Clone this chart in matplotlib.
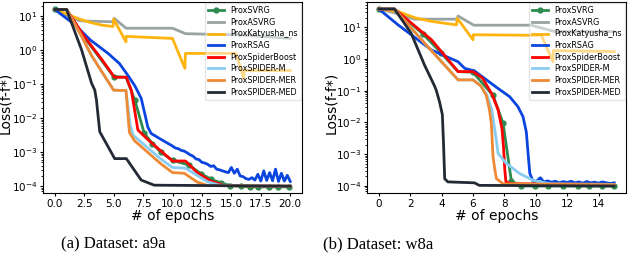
import numpy as np
import matplotlib
matplotlib.use("Agg")
import matplotlib.pyplot as plt

# ---- data (values are log10 of loss) ----
labels = ["ProxSVRG", "ProxASVRG", "ProxKatyusha_ns", "ProxRSAG",
          "ProxSpiderBoost", "ProxSPIDER-M", "ProxSPIDER-MER", "ProxSPIDER-MED"]
colors = ["#2e8b4f", "#98a4a4", "#ffb30f", "#0b45e0",
          "#ff0000", "#88ccf1", "#ee8a35", "#232a36"]

# dataset a9a
a9a_svrg_x = [0, 1.0, 2.5, 5.0, 6.05, 6.8, 7.6, 8.3, 9.0, 10.0, 11.4, 12.4, 13.3, 14.1, 14.9, 15.8, 16.6, 17.3, 18.2, 19.0, 19.9]
a9a_svrg_y = [1.19, 1.19, 0.38, -0.78, -0.8, -1.47, -2.45, -2.75, -3.0, -3.24, -3.38, -3.63, -3.8, -3.9, -3.98, -4.0, -4.02, -4.02, -4.02, -4.02, -4.02]
a9a_svrg_marks = [0, 2, 3, 5, 6, 7, 8, 9, 10, 11, 12, 13, 14, 15, 16, 17, 18, 19, 20]

a9a_asvrg_x = [0, 1.0, 2.0, 2.5, 5.0, 5.05, 6.05, 10.0, 11.1, 16.0, 20.0]
a9a_asvrg_y = [1.19, 1.02, 0.87, 0.85, 0.83, 0.93, 0.64, 0.64, 0.48, 0.44, 0.34]

a9a_katy_x = [0, 1.0, 2.0, 3.0, 4.0, 4.95, 5.0, 6.05, 6.06, 10.0, 11.05, 11.1, 15.4, 16.05, 16.1, 20.0]
a9a_katy_y = [1.19, 1.06, 0.92, 0.81, 0.73, 0.69, 0.91, 0.24, 0.4, 0.34, -0.54, -0.1, -0.1, -0.83, -0.6, -0.6]

a9a_rsag_x = [0, 1.72, 3.0, 4.53, 5.5, 6.2, 6.8, 7.34, 7.7, 7.9, 8.18, 9.0, 10.0,
              10.25, 10.5, 10.75, 11.0, 11.25, 11.5, 11.75, 12.0, 12.25, 12.5, 12.75, 13.0,
              13.25, 13.5, 13.75, 14.0, 14.25, 14.5, 14.75, 15.0, 15.25, 15.5, 15.75, 16.0,
              16.25, 16.5, 16.75, 17.0, 17.25, 17.5, 17.75, 18.0, 18.25, 18.5, 18.75, 19.0,
              19.25, 19.5, 19.75, 20.0]
a9a_rsag_y = [1.19, 0.74, 0.3, -0.1, -0.4, -0.74, -1.05, -1.42, -1.95, -2.26, -2.45, -2.62, -2.82,
              -2.88, -2.9, -2.95, -2.97, -3.02, -3.08, -3.12, -3.2, -3.22, -3.3, -3.32, -3.36,
              -3.42, -3.4, -3.5, -3.52, -3.55, -3.58, -3.6, -3.45, -3.62, -3.5, -3.7, -3.72,
              -3.78, -3.8, -3.75, -3.82, -3.65, -3.85, -3.55, -3.83, -3.6, -3.84, -3.5, -3.86,
              -3.62, -3.85, -3.68, -3.86]

a9a_boost_x = [0, 1.0, 2.5, 4.0, 5.07, 6.08, 6.5, 7.06, 8.0, 10.0, 11.1, 12.1, 13.25, 14.4, 20.0]
a9a_boost_y = [1.19, 1.19, 0.4, -0.28, -0.8, -0.8, -1.18, -2.35, -2.66, -3.26, -3.26, -3.6, -3.85, -3.98, -4.0]

a9a_m_x = [0, 1.0, 2.3, 3.1, 4.0, 5.0, 6.05, 6.4, 6.65, 9.0, 10.0, 11.1, 12.97, 14.0, 20.0]
a9a_m_y = [1.19, 1.19, 0.39, -0.15, -0.64, -1.18, -1.19, -2.2, -2.5, -3.2, -3.45, -3.47, -3.87, -3.97, -4.0]

a9a_mer_x = [0, 1.0, 2.3, 3.1, 4.0, 5.0, 6.05, 6.34, 6.76, 9.0, 10.0, 11.0, 12.1, 13.0, 20.0]
a9a_mer_y = [1.19, 1.19, 0.39, -0.15, -0.64, -1.18, -1.19, -2.42, -2.66, -3.34, -3.6, -3.62, -3.88, -3.98, -4.0]

a9a_med_x = [0, 1.0, 2.28, 3.12, 3.4, 3.54, 3.82, 5.09, 6.08, 7.34, 8.44, 20.0]
a9a_med_y = [1.19, 1.19, 0.0, -0.97, -1.18, -1.47, -2.4, -3.19, -3.19, -3.82, -3.97, -4.0]

# dataset w8a
w8a_svrg_x = [0, 1.0, 2.82, 3.95, 5.05, 6.0, 7.28, 7.92, 8.45, 9.09, 9.94, 10.8, 11.74, 12.7, 13.4, 14.2, 15.0]
w8a_svrg_y = [1.57, 1.57, 0.78, 0.2, -0.4, -0.42, -1.15, -2.03, -3.85, -4.0, -4.0, -4.0, -4.0, -4.0, -4.0, -4.0, -4.0]
w8a_svrg_marks = [0, 2, 3, 5, 6, 7, 8, 9, 10, 11, 12, 13, 14, 15, 16]

w8a_asvrg_x = [0, 1.0, 2.27, 5.0, 5.05, 6.05, 9.7, 11.2, 15.0]
w8a_asvrg_y = [1.57, 1.45, 1.25, 1.25, 1.35, 1.06, 1.06, 0.86, 0.86]

w8a_katy_x = [0, 1.23, 2.27, 3.36, 4.95, 5.0, 6.0, 6.02, 10.36, 11.1, 11.12, 15.0]
w8a_katy_y = [1.57, 1.49, 1.3, 1.18, 1.07, 1.28, 0.6, 0.76, 0.74, -0.09, 0.26, 0.23]

w8a_rsag_x = [0, 1.23, 3.36, 5.05, 5.48, 6.1, 7.16, 7.6, 8.34, 8.86, 9.19, 9.4, 9.5, 9.62, 9.83,
              10.0, 10.3, 10.5, 10.75, 11.0, 11.25, 11.5, 11.75, 12.0, 12.25, 12.5, 12.75, 13.0,
              13.25, 13.5, 13.75, 14.0, 14.25, 14.5, 14.75, 15.0]
w8a_rsag_y = [1.57, 1.07, 0.28, -0.09, -0.3, -0.38, -0.77, -0.93, -1.19, -1.5, -1.82, -2.3, -2.9, -3.6, -3.85,
              -3.86, -3.74, -3.87, -3.84, -3.88, -3.85, -3.9, -3.86, -3.89, -3.85, -3.9, -3.87, -3.91,
              -3.86, -3.9, -3.88, -3.91, -3.87, -3.9, -3.92, -3.9]

w8a_boost_x = [0, 1.0, 3.36, 5.05, 6.0, 6.6, 7.2, 7.6, 7.85, 7.95, 8.03, 8.1, 8.5, 15.0]
w8a_boost_y = [1.57, 1.57, 0.6, -0.4, -0.4, -0.6, -1.1, -1.6, -2.2, -2.8, -3.5, -3.87, -3.93, -3.95]

w8a_m_x = [0, 1.0, 3.0, 5.05, 6.0, 6.5, 6.9, 7.2, 7.35, 7.5, 7.6, 8.13, 8.98, 9.83, 10.9, 15.0]
w8a_m_y = [1.57, 1.57, 0.45, -0.66, -0.66, -0.85, -1.15, -1.6, -2.1, -2.6, -2.98, -3.29, -3.61, -3.82, -3.93, -3.95]

w8a_mer_x = [0, 1.0, 3.0, 5.05, 6.0, 6.5, 6.85, 7.05, 7.17, 7.28, 7.4, 7.5, 7.92, 15.0]
w8a_mer_y = [1.57, 1.57, 0.45, -0.66, -0.66, -0.85, -1.15, -1.6, -2.03, -3.08, -3.5, -3.77, -3.93, -3.96]

w8a_med_x = [0, 1.0, 2.06, 2.91, 3.55, 3.67, 3.87, 4.05, 4.12, 4.2, 4.4, 6.1, 6.4, 15.0]
w8a_med_y = [1.57, 1.57, 0.81, -0.19, -0.85, -1.0, -1.35, -1.75, -2.6, -3.77, -3.87, -3.9, -3.98, -4.0]

a9a = [(a9a_svrg_x, a9a_svrg_y), (a9a_asvrg_x, a9a_asvrg_y), (a9a_katy_x, a9a_katy_y),
       (a9a_rsag_x, a9a_rsag_y), (a9a_boost_x, a9a_boost_y), (a9a_m_x, a9a_m_y),
       (a9a_mer_x, a9a_mer_y), (a9a_med_x, a9a_med_y)]
w8a = [(w8a_svrg_x, w8a_svrg_y), (w8a_asvrg_x, w8a_asvrg_y), (w8a_katy_x, w8a_katy_y),
       (w8a_rsag_x, w8a_rsag_y), (w8a_boost_x, w8a_boost_y), (w8a_m_x, w8a_m_y),
       (w8a_mer_x, w8a_mer_y), (w8a_med_x, w8a_med_y)]

fig = plt.figure(figsize=(6.3, 2.72), dpi=100)
ax1 = fig.add_axes([43 / 630, 79 / 272, 259 / 630, 191 / 272])
ax2 = fig.add_axes([367 / 630, 79 / 272, 259 / 630, 191 / 272])


def draw(ax, series, marks, ylim, xticks, ylab_x):
    for i, (x, y) in enumerate(series):
        y = 10 ** np.array(y)
        if i == 0:
            ax.plot(x, y, color=colors[i], lw=2, marker="o", ms=3.5,
                    markevery=marks, label=labels[i])
        else:
            ax.plot(x, y, color=colors[i], lw=2, label=labels[i])
    ax.set_yscale("log")
    ax.set_ylim(*ylim)
    ax.set_xticks(xticks)
    ax.tick_params(labelsize=7.5, length=2.5, pad=1.5)
    ax.tick_params(which="minor", length=1.5)
    ax.set_xlabel("# of epochs", fontsize=10, labelpad=0)
    ax.set_ylabel("Loss(f-f*)", fontsize=10)
    ax.yaxis.set_label_coords(ylab_x, 0.47)
    ax.legend(loc="upper right", fontsize=5.8, labelspacing=0.33,
              borderaxespad=0.1, framealpha=0.5)


draw(ax1, a9a, a9a_svrg_marks, (10 ** -4.2, 10 ** 1.41),
     [0, 2.5, 5, 7.5, 10, 12.5, 15, 17.5, 20], -0.118)
ax1.set_xticklabels(["0.0", "2.5", "5.0", "7.5", "10.0", "12.5", "15.0", "17.5", "20.0"])
draw(ax2, w8a, w8a_svrg_marks, (10 ** -4.22, 10 ** 1.79),
     [0, 2, 4, 6, 8, 10, 12, 14], -0.11)

fig.text(113 / 630, 1 - 244 / 272, "(a) Dataset: a9a", family="Liberation Serif",
         fontsize=12, ha="center", va="center")
fig.text(378 / 630, 1 - 244 / 272, "(b) Dataset: w8a", family="Liberation Serif",
         fontsize=12, ha="center", va="center")

fig.savefig("out.png", dpi=100)
